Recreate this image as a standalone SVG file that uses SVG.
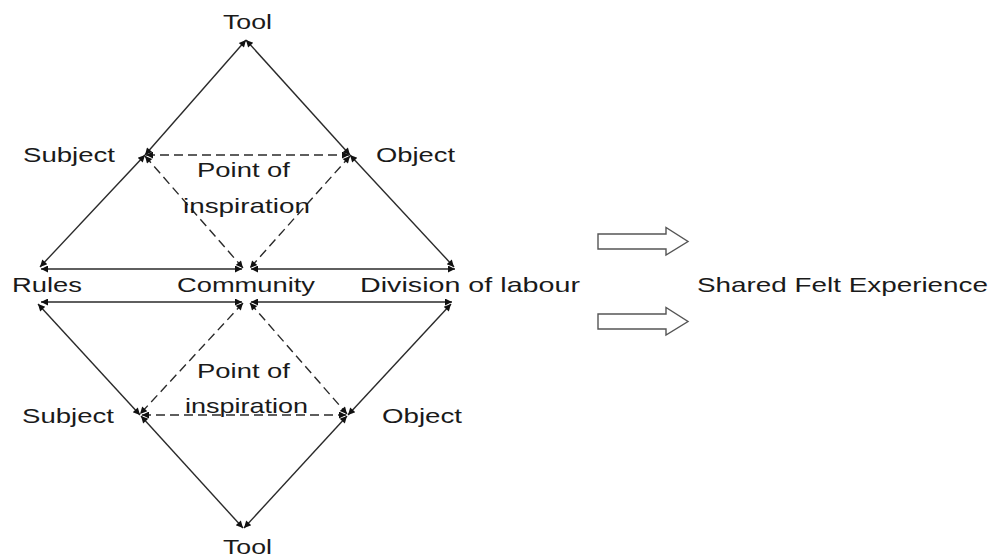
<svg xmlns="http://www.w3.org/2000/svg" width="992" height="559" viewBox="0 0 992 559">
<style>
  text { font-family: "Liberation Sans", Arial, sans-serif; font-size: 21px; fill: #1a1a1a; }
  .ln { stroke: #2a2a2a; stroke-width: 1.4; fill: none; marker-start: url(#ah); marker-end: url(#ah); }
  .dash { stroke-dasharray: 9 5; }
  .blk { fill: #fff; stroke: #555; stroke-width: 1.4; stroke-linejoin: miter; }
</style>
<defs>
  <marker id="ah" viewBox="0 0 10 10" refX="10" refY="5" markerWidth="9" markerHeight="7" markerUnits="userSpaceOnUse" orient="auto-start-reverse">
    <path d="M0,0 L10,5 L0,10 z" fill="#111"/>
  </marker>
</defs>
<rect width="992" height="559" fill="#fff"/>
<g id="connectors">
  <!-- upper diamond -->
  <line class="ln" x1="246" y1="40" x2="145" y2="155"/>
  <line class="ln" x1="246" y1="40" x2="350" y2="155"/>
  <line class="ln" x1="145" y1="155" x2="40" y2="267"/>
  <line class="ln" x1="350" y1="155" x2="454" y2="267"/>
  <line class="ln" x1="41" y1="269" x2="242" y2="269"/>
  <line class="ln" x1="251" y1="269" x2="455" y2="269"/>
  <line class="ln dash" x1="146" y1="155" x2="349" y2="155"/>
  <line class="ln dash" x1="145" y1="156" x2="243" y2="268"/>
  <line class="ln dash" x1="350" y1="156" x2="250" y2="268"/>
  <!-- lower diamond -->
  <line class="ln" x1="41" y1="302" x2="242" y2="302"/>
  <line class="ln" x1="251" y1="302" x2="452" y2="302"/>
  <line class="ln" x1="38" y1="304" x2="140" y2="415"/>
  <line class="ln" x1="451" y1="304" x2="348" y2="415"/>
  <line class="ln" x1="141" y1="416" x2="243" y2="528"/>
  <line class="ln" x1="347" y1="416" x2="244" y2="528"/>
  <line class="ln dash" x1="142" y1="415" x2="346" y2="415"/>
  <line class="ln dash" x1="243" y1="303" x2="140" y2="414"/>
  <line class="ln dash" x1="250" y1="303" x2="347" y2="414"/>
  <!-- block arrows -->
  <path class="blk" d="M598,234 L666,234 L666,227.5 L688,241.5 L666,255 L666,249 L598,249 Z"/>
  <path class="blk" d="M598,314 L666,314 L666,307.5 L688,321.5 L666,335 L666,329 L598,329 Z"/>
</g>
<g id="tool-top"><text x="223" y="29" textLength="49" lengthAdjust="spacingAndGlyphs">Tool</text></g>
<g id="subject-top"><text x="23" y="162" textLength="92" lengthAdjust="spacingAndGlyphs">Subject</text></g>
<g id="object-top"><text x="376" y="162" textLength="79" lengthAdjust="spacingAndGlyphs">Object</text></g>
<g id="poi-top">
  <text x="197" y="177" textLength="93" lengthAdjust="spacingAndGlyphs">Point of</text>
  <text x="183" y="213" textLength="127" lengthAdjust="spacingAndGlyphs">inspiration</text>
</g>
<g id="rules"><text x="12" y="292" textLength="70" lengthAdjust="spacingAndGlyphs">Rules</text></g>
<g id="community"><text x="177" y="292" textLength="138" lengthAdjust="spacingAndGlyphs">Community</text></g>
<g id="division"><text x="360" y="292" textLength="220" lengthAdjust="spacingAndGlyphs">Division of labour</text></g>
<g id="shared"><text x="697" y="292" textLength="291" lengthAdjust="spacingAndGlyphs">Shared Felt Experience</text></g>
<g id="poi-bottom">
  <text x="197" y="378" textLength="93" lengthAdjust="spacingAndGlyphs">Point of</text>
  <text x="185" y="413" textLength="123" lengthAdjust="spacingAndGlyphs">inspiration</text>
</g>
<g id="subject-bottom"><text x="22" y="423" textLength="92" lengthAdjust="spacingAndGlyphs">Subject</text></g>
<g id="object-bottom"><text x="382" y="423" textLength="80" lengthAdjust="spacingAndGlyphs">Object</text></g>
<g id="tool-bottom"><text x="223" y="554" textLength="49" lengthAdjust="spacingAndGlyphs">Tool</text></g>
</svg>
